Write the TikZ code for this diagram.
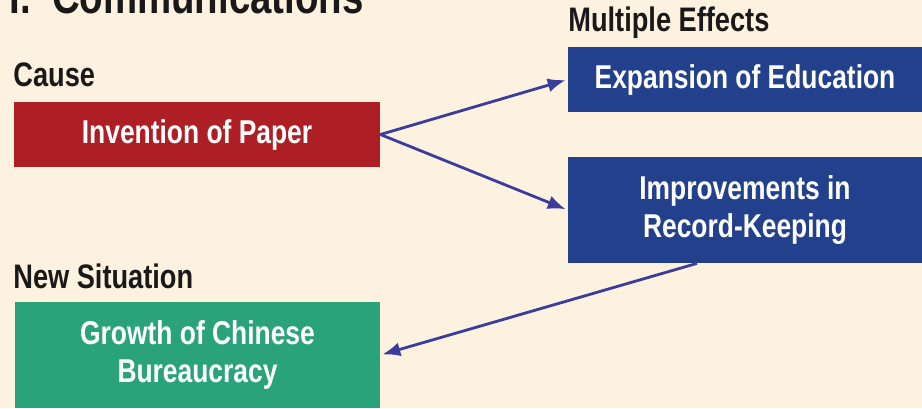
\documentclass[tikz,border=0pt]{standalone}
\usepackage{fontspec}
\setmainfont{Liberation Sans}[FakeStretch=0.8]
\usetikzlibrary{arrows.meta}
\definecolor{paper}{HTML}{FCF2DF}
\definecolor{causered}{HTML}{AE1E25}
\definecolor{effectblue}{HTML}{23408C}
\definecolor{situgreen}{HTML}{2AA37B}
\definecolor{arrowblue}{HTML}{3A3D9C}
\begin{document}
\begin{tikzpicture}[x=0.5pt, y=-0.5pt, shorten >=1pt,
  box/.style={rectangle,inner sep=0pt,text=white,align=center,font=\bfseries\fontsize{16.5}{19}\selectfont},
  heading/.style={anchor=base west,inner sep=0pt,text=black!90,font=\bfseries\fontsize{17}{19}\selectfont},
  link/.style={-{Latex[length=9pt,width=7pt]},draw=arrowblue,line width=1.4pt}]
\useasboundingbox (0,0) rectangle (922,408);
\clip (0,0) rectangle (922,408);
\fill [paper] (0,0) rectangle (922,408);
% labels
\node [heading,font=\bfseries\fontsize{24}{28}\selectfont](title) at (9,13) {I.\ \ Communications};
\node [heading](cause) at (13,86) {Cause};
\node [heading](effects) at (568,31) {Multiple Effects};
\node [heading](situation) at (13,288) {New Situation};
% boxes
\node [box,fill=causered,minimum width=183pt,minimum height=32.5pt](paper) at (197,134.5) {Invention of Paper};
\node [box,fill=effectblue,minimum width=177pt,minimum height=32.5pt](edu) at (745,79.5) {Expansion of Education};
\node [box,fill=effectblue,minimum width=177pt,minimum height=53pt](records) at (745,210) {Improvements in\\Record-Keeping};
\node [box,fill=situgreen,minimum width=182.5pt,minimum height=53pt](bureau) at (197.5,355) {Growth of Chinese\\Bureaucracy};
\path
	(paper.east) edge [link] (edu.west)
	(paper.east) edge [link] (records.west)
	(records.228) edge [link] (bureau.east)
	;
\end{tikzpicture}
\end{document}
